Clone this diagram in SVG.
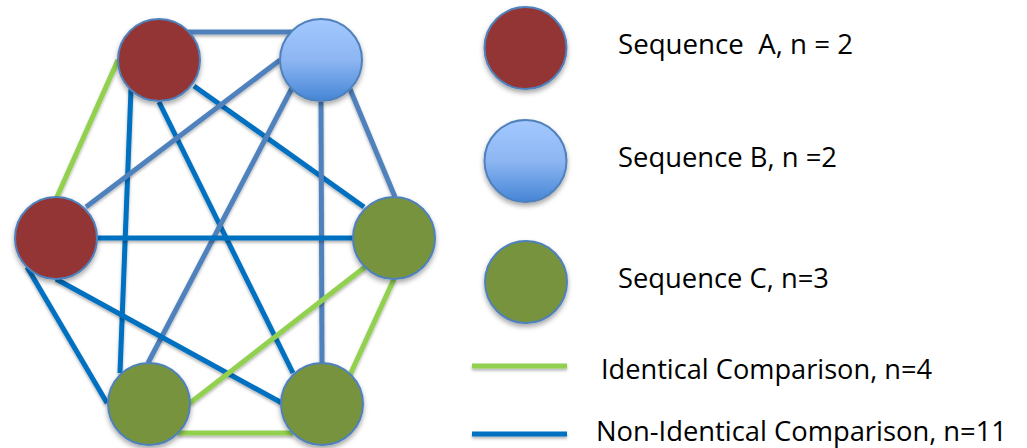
<svg xmlns="http://www.w3.org/2000/svg" width="1027" height="448" viewBox="0 0 1027 448">
<style>
.n{stroke:#4F81BD;stroke-width:2;filter:url(#sh)}
.a{fill:#943634}
.b{fill:url(#gb)}
.c{fill:#77933C}
.e{fill:none;stroke-width:5;stroke-linecap:butt;filter:url(#shl)}
.g{stroke:#92D050}
.d{stroke:#0070C0}
.s{stroke:#4F81BD}
.t{font-family:"Open Sans","Liberation Sans",sans-serif;font-size:28px;fill:#000}
</style>
<defs>
<linearGradient id="gb" x1="0" y1="0" x2="0" y2="1">
<stop offset="0" stop-color="#A3C8FF"/>
<stop offset="0.5" stop-color="#8DB6F2"/>
<stop offset="1" stop-color="#4585D6"/>
</linearGradient>
<filter id="sh" x="-30%" y="-30%" width="160%" height="170%">
<feDropShadow dx="0" dy="3" stdDeviation="2.5" flood-color="#000" flood-opacity="0.35"/>
</filter>
<filter id="shl" filterUnits="userSpaceOnUse" x="0" y="0" width="1027" height="448">
<feDropShadow dx="0" dy="2" stdDeviation="1.5" flood-color="#000" flood-opacity="0.3"/>
</filter>
</defs>
<g id="connectors">
<line class="e s" x1="188" y1="32" x2="292" y2="32"/>
<line class="e g" x1="118" y1="60" x2="57" y2="197"/>
<line class="e d" x1="131" y1="89" x2="120" y2="373"/>
<line class="e d" x1="159" y1="102" x2="293" y2="373"/>
<line class="e d" x1="194" y1="86" x2="364" y2="207"/>
<line class="e s" x1="280" y1="60" x2="86" y2="207"/>
<line class="e s" x1="292" y1="88" x2="148" y2="363"/>
<line class="e s" x1="321" y1="102" x2="322" y2="363"/>
<line class="e s" x1="350" y1="89" x2="395" y2="197"/>
<line class="e d" x1="97" y1="238" x2="353" y2="238"/>
<line class="e d" x1="27" y1="267" x2="107" y2="403"/>
<line class="e d" x1="56" y1="279" x2="282" y2="403"/>
<line class="e g" x1="365" y1="267" x2="190" y2="403"/>
<line class="e g" x1="394" y1="279" x2="350" y2="375"/>
<line class="e g" x1="178" y1="433" x2="293" y2="433"/>
</g>
<g id="nodeA1"><circle class="n a" cx="159" cy="60" r="41"/></g>
<g id="nodeB"><circle class="n b" cx="321" cy="60" r="41"/></g>
<g id="nodeA2"><circle class="n a" cx="56" cy="238" r="41"/></g>
<g id="nodeC1"><circle class="n c" cx="394" cy="238" r="41"/></g>
<g id="nodeC2"><circle class="n c" cx="149" cy="404" r="41"/></g>
<g id="nodeC3"><circle class="n c" cx="322" cy="404" r="41"/></g>
<g id="legend">
<g id="legendA"><circle class="n a" cx="525.5" cy="48" r="41"/>
<text class="t" x="618" y="54" xml:space="preserve" textLength="235" lengthAdjust="spacingAndGlyphs">Sequence  A, n = 2</text></g>
<g id="legendB"><circle class="n b" cx="525.5" cy="161" r="41"/>
<text class="t" x="618" y="167" textLength="219" lengthAdjust="spacingAndGlyphs">Sequence B, n =2</text></g>
<g id="legendC"><circle class="n c" cx="526" cy="282" r="41"/>
<text class="t" x="618" y="288" textLength="211" lengthAdjust="spacingAndGlyphs">Sequence C, n=3</text></g>
<g id="legendIdentical"><line class="e g" x1="472" y1="366" x2="567" y2="366"/>
<text class="t" x="601" y="379" textLength="331" lengthAdjust="spacingAndGlyphs">Identical Comparison, n=4</text></g>
<g id="legendNonIdentical"><line class="e d" x1="472" y1="434" x2="567" y2="434"/>
<text class="t" x="596" y="441" textLength="411" lengthAdjust="spacingAndGlyphs">Non-Identical Comparison, n=11</text></g>
</g>
</svg>
